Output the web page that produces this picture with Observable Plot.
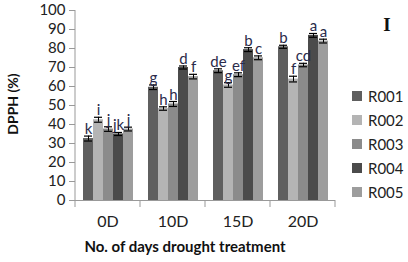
<!DOCTYPE html>
<html>
<head>
<meta charset="utf-8">
<script src="https://cdn.jsdelivr.net/npm/d3@7"></script>
<script src="https://cdn.jsdelivr.net/npm/@observablehq/plot@0.6"></script>
<style>
  body { margin: 0; background: #fff; }
  #wrap { position: relative; width: 408px; height: 262px; font-family: Lato, sans-serif; overflow: hidden; }
  #chart svg { overflow: visible; }
  #ytitle { position: absolute; left: 12px; top: 104px; transform: translate(-50%, -50%) rotate(-90deg); font-weight: bold; font-size: 14px; white-space: nowrap; color: #111; }
  #xtitle { position: absolute; left: 185px; top: 246px; transform: translate(-50%, -50%); font-weight: bold; font-size: 15px; white-space: nowrap; color: #111; }
  #panel { position: absolute; left: 387px; top: 25px; transform: translate(-50%, -50%); font-family: "Liberation Serif", serif; font-weight: bold; font-size: 19px; color: #111; }
  #legend { position: absolute; left: 352px; top: 84px; }
  .li { display: flex; align-items: center; height: 24px; font-size: 15px; color: #222; }
  .sw { width: 10px; height: 10px; margin-right: 6px; }
</style>
</head>
<body>
<div id="wrap">
  <div id="chart"></div>
  <div id="ytitle">DPPH (%)</div>
  <div id="xtitle">No. of days drought treatment</div>
  <div id="panel">I</div>
  <div id="legend"></div>
</div>
<script>
const days = ["0D", "10D", "15D", "20D"];
const series = ["R001", "R002", "R003", "R004", "R005"];
const colors = ["#5f5f5f", "#b4b4b4", "#8b8b8b", "#4b4b4b", "#9d9d9d"];
const yTicks = [0, 10, 20, 30, 40, 50, 60, 70, 80, 90, 100];

const r001 = [32.6, 59.6, 68.3, 80.9];
const r002 = [42.5, 48.4, 60.8, 63.9];
const r003 = [37.6, 50.8, 66.2, 71.3];
const r004 = [35.0, 70.0, 79.4, 86.9];
const r005 = [37.6, 65.2, 75.1, 83.9];

const e001 = [1.3, 1.2, 1.0, 0.8];
const e002 = [1.3, 0.9, 1.2, 1.5];
const e003 = [1.2, 1.3, 1.0, 0.9];
const e004 = [0.8, 0.8, 1.0, 1.0];
const e005 = [1.0, 1.2, 1.0, 1.0];

const l001 = ["k", "g", "de", "b"];
const l002 = ["i", "h", "g", "f"];
const l003 = ["j", "h", "ef", "cd"];
const l004 = ["jk", "d", "b", "a"];
const l005 = ["j", "f", "c", "a"];

const vals = [r001, r002, r003, r004, r005];
const errs = [e001, e002, e003, e004, e005];
const lets = [l001, l002, l003, l004, l005];

const data = [];
series.forEach((s, i) => days.forEach((d, j) => {
  data.push({series: s, day: d, value: vals[i][j], err: errs[i][j], letter: lets[i][j]});
}));

const plot = Plot.plot({
  width: 408,
  height: 262,
  marginLeft: 74,
  marginRight: 72,
  marginTop: 10,
  marginBottom: 62,
  style: {fontFamily: "Lato, sans-serif", background: "transparent", overflow: "visible"},
  fx: {domain: days, padding: 0},
  x: {domain: series, paddingInner: 0, paddingOuter: 0.7, axis: null},
  y: {domain: [0, 100]},
  color: {domain: series, range: colors},
  marks: [
    Plot.barY(data, {fx: "day", x: "series", y: "value", fill: "series"}),
    Plot.ruleX(data, {fx: "day", x: "series", y1: d => d.value - d.err, y2: d => d.value + d.err, stroke: "#000", strokeWidth: 1}),
    Plot.tickY(data, {fx: "day", x: "series", y: d => d.value + d.err, stroke: "#000", strokeWidth: 1.2, insetLeft: 1, insetRight: 1}),
    Plot.tickY(data, {fx: "day", x: "series", y: d => d.value - d.err, stroke: "#000", strokeWidth: 1.2, insetLeft: 1, insetRight: 1}),
    Plot.text(data, {fx: "day", x: "series", y: d => d.value + d.err, text: "letter", dy: -2, lineAnchor: "bottom", fontSize: 15, fill: "#2b2b4b"}),
    Plot.ruleY([0], {stroke: "#999"}),
    Plot.axisY({ticks: yTicks, tickSize: 6, tickPadding: 4, label: null, fontSize: 15, stroke: "#999", color: "#222"}),
    Plot.axisFx({anchor: "bottom", tickSize: 0, tickPadding: 15, label: null, fontSize: 16, color: "#222"})
  ]
});

document.getElementById("chart").appendChild(plot);

// axis line and category boundary ticks from the library's scales
const fx = plot.scale("fx");
const y = plot.scale("y");
const svg = d3.select(plot);
const y0 = y.apply(0);
const x0 = fx.apply(days[0]);
svg.append("line")
  .attr("x1", x0).attr("x2", x0)
  .attr("y1", y.apply(0)).attr("y2", y.apply(100))
  .attr("stroke", "#999");
const bounds = days.map(d => fx.apply(d)).concat([fx.apply(days[days.length - 1]) + fx.bandwidth]);
svg.selectAll("line.bt").data(bounds).join("line")
  .attr("class", "bt")
  .attr("x1", d => d).attr("x2", d => d)
  .attr("y1", y0).attr("y2", y0 + 7)
  .attr("stroke", "#999");

// legend
const lg = d3.select("#legend");
series.forEach((s, i) => {
  const row = lg.append("div").attr("class", "li");
  row.append("div").attr("class", "sw").style("background", colors[i]);
  row.append("span").text(s);
});
</script>
</body>
</html>
